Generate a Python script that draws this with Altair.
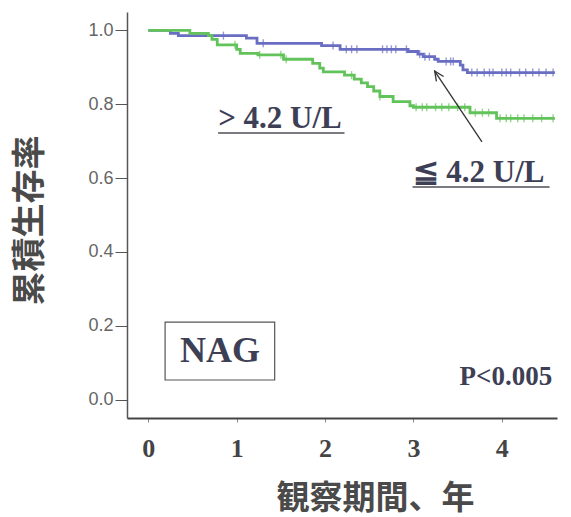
import altair as alt
import pandas as pd

# Kaplan-Meier step data (years, cumulative survival)
low_t = [0.0, 0.25, 0.34, 1.11, 1.23, 1.96, 2.17, 2.94, 3.05, 3.11, 3.24, 3.28, 3.53, 3.56, 3.61, 4.6]
low_s = [1.0, 0.992, 0.986, 0.979, 0.965, 0.959, 0.949, 0.943, 0.936, 0.929, 0.922, 0.916, 0.906, 0.893, 0.886, 0.886]
high_t = [0.0, 0.47, 0.68, 0.72, 0.78, 1.0, 1.04, 1.24, 1.53, 1.86, 1.94, 1.98, 2.22, 2.33, 2.41, 2.48,
          2.55, 2.62, 2.77, 2.96, 3.0, 3.64, 3.94, 4.6]
high_s = [1.0, 0.992, 0.986, 0.976, 0.961, 0.949, 0.938, 0.934, 0.922, 0.911, 0.898, 0.888, 0.879, 0.868,
          0.858, 0.848, 0.836, 0.821, 0.807, 0.796, 0.792, 0.777, 0.762, 0.762]

# censor marks (years)
low_cens = [0.85, 1.3, 2.09, 2.24, 2.3, 2.36, 2.65, 2.7, 2.75, 2.8, 2.92, 3.07, 3.13, 3.18, 3.37, 3.42, 3.45,
            3.66, 3.72, 3.8, 3.86, 3.9, 4.0, 4.05, 4.1, 4.2, 4.27, 4.35, 4.42, 4.5, 4.58]
high_cens = [0.98, 1.26, 1.5, 1.56, 2.3, 2.62, 3.03, 3.1, 3.15, 3.25, 3.32, 3.4, 3.5, 3.58, 3.7, 3.78, 3.85,
             3.98, 4.05, 4.1, 4.18, 4.25, 4.35, 4.45, 4.58]

x_ticks = [0, 1, 2, 3, 4]
y_ticks = [0.0, 0.2, 0.4, 0.6, 0.8, 1.0]

BLUE = "#6a6ec2"
GREEN = "#62c35a"
TXT = "#3d4055"

def step_value(ts, ss, t):
    v = ss[0]
    for a, b in zip(ts, ss):
        if a <= t:
            v = b
    return v

curves = pd.DataFrame(
    [{"t": t, "s": s, "g": "low"} for t, s in zip(low_t, low_s)]
    + [{"t": t, "s": s, "g": "high"} for t, s in zip(high_t, high_s)]
)
cens = pd.DataFrame(
    [{"t": t, "s": step_value(low_t, low_s, t), "g": "low"} for t in low_cens]
    + [{"t": t, "s": step_value(high_t, high_s, t), "g": "high"} for t in high_cens]
)

xs = alt.Scale(domain=[-0.241, 4.624], nice=False, zero=False)
ys = alt.Scale(domain=[-0.05, 1.05], nice=False, zero=False)
cs = alt.Scale(domain=["low", "high"], range=[BLUE, GREEN])

base_x = alt.X("t:Q", scale=xs, axis=alt.Axis(
    values=x_ticks, format="d", title="観察期間、年", grid=False,
    labelFont="Liberation Serif", labelFontWeight="bold", labelFontSize=26, labelColor="#444",
    tickSize=4, tickColor="#888", labelPadding=13, domainColor="#444", domainWidth=2,
    titleFont="Noto Sans CJK JP", titleFontWeight="bold", titleFontSize=33, titleColor="#4a4a4a",
    titleX=248, titleY=80, titleBaseline="middle", titleAlign="center"))
base_y = alt.Y("s:Q", scale=ys, axis=alt.Axis(
    values=y_ticks, format=".1f", title="累積生存率", grid=False,
    labelFont="Liberation Sans", labelFontSize=18, labelColor="#666",
    tickSize=12, tickColor="#555", labelPadding=2, domainColor="#555", domainWidth=1.5,
    titleFont="Noto Sans CJK JP", titleFontWeight="bold", titleFontSize=34, titleColor="#4a4a4a",
    titleX=-97, titleY=208, titleBaseline="middle", titleAlign="center", titleAngle=270))

lines = alt.Chart(curves).mark_line(interpolate="step-after", strokeWidth=2.8).encode(
    x=base_x, y=base_y, color=alt.Color("g:N", scale=cs, legend=None), detail="g:N")

ticks = alt.Chart(cens).mark_tick(orient="vertical", size=8, thickness=1.4).encode(
    x="t:Q", y="s:Q", color=alt.Color("g:N", scale=cs, legend=None))

labels_df = pd.DataFrame({
    "t": [0.79, 2.99],
    "s": [0.736, 0.589],
    "txt": ["> 4.2 U/L", "≦ 4.2 U/L"],
})
lbl = alt.Chart(labels_df).mark_text(align="left", baseline="alphabetic", font="Liberation Serif",
                                      fontWeight="bold", fontSize=31, color=TXT).encode(
    x="t:Q", y="s:Q", text="txt:N")

ul_df = pd.DataFrame({"t": [0.79, 2.99], "t2": [2.22, 4.54], "s": [0.722, 0.576]})
ul = alt.Chart(ul_df).mark_rule(color="#7a7a80", strokeWidth=2).encode(x="t:Q", x2="t2:Q", y="s:Q")

box_df = pd.DataFrame({"t": [0.19], "t2": [1.43], "s": [0.210], "s2": [0.053]})
box = alt.Chart(box_df).mark_rect(fill="white", stroke="#555", strokeWidth=1.2).encode(
    x="t:Q", x2="t2:Q", y="s:Q", y2="s2:Q")
nag = alt.Chart(pd.DataFrame({"t": [0.81], "s": [0.131], "txt": ["NAG"]})).mark_text(
    align="center", baseline="middle", font="Liberation Serif", fontWeight="bold",
    fontSize=36, color=TXT).encode(x="t:Q", y="s:Q", text="txt:N")
pval = alt.Chart(pd.DataFrame({"t": [4.57], "s": [0.039], "txt": ["P<0.005"]})).mark_text(
    align="right", baseline="alphabetic", font="Liberation Serif", fontWeight="bold",
    fontSize=27, color=TXT).encode(x="t:Q", y="s:Q", text="txt:N")

arrow_df = pd.DataFrame({"t": [3.775], "s": [0.698], "t2": [3.24], "s2": [0.890]})
shaft = alt.Chart(arrow_df).mark_rule(color="#333", strokeWidth=1.3).encode(
    x="t:Q", y="s:Q", x2="t2:Q", y2="s2:Q")
head = alt.Chart(arrow_df).mark_point(
    shape="M -0.5 1.1 L 0 0 L 0.5 1.1", filled=False, size=300, angle=326,
    color="#333", strokeWidth=1.3, opacity=1).encode(x="t2:Q", y="s2:Q")

chart = alt.layer(lines, ticks, lbl, ul, box, nag, pval, shaft, head).properties(
    width=430, height=406,
    autosize=alt.AutoSizeParams(type="none"),
    padding={"left": 127, "top": 12, "right": 14, "bottom": 99},
    background="white",
).configure_view(stroke=None)

chart.save("out.html", embed_options={"renderer": "svg", "actions": False})
